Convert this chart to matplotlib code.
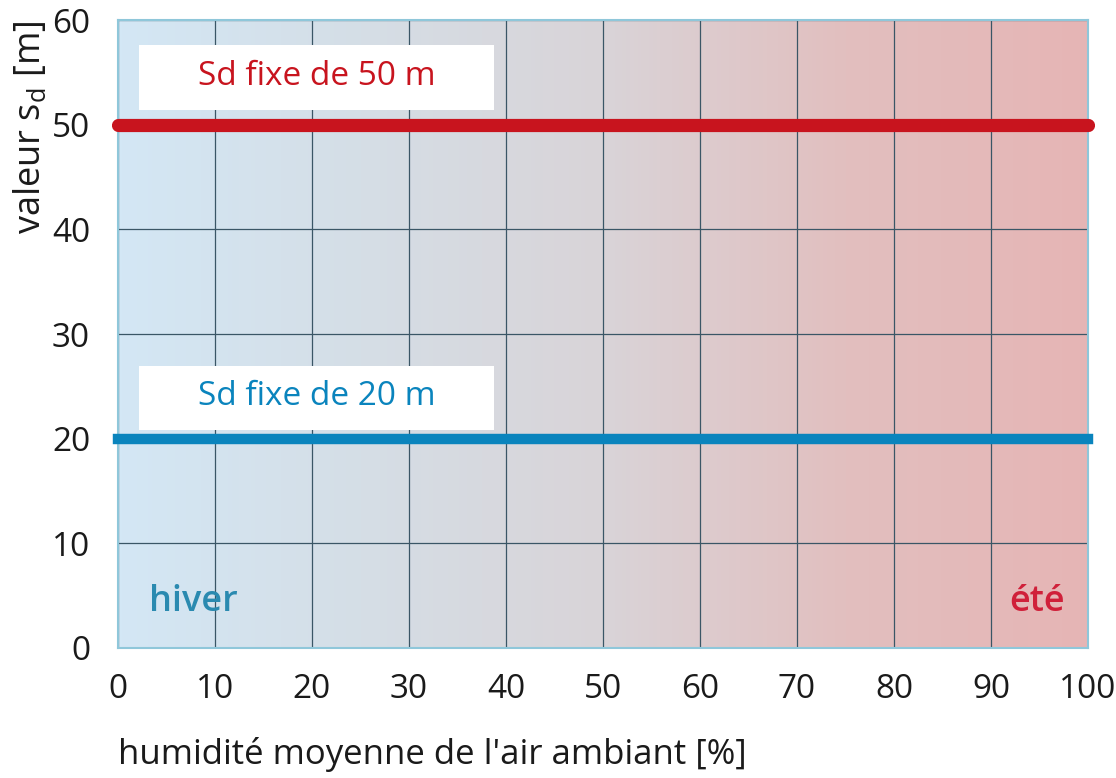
import numpy as np
import matplotlib.pyplot as plt
from matplotlib.colors import LinearSegmentedColormap
from matplotlib.patches import Rectangle

# données
humidite = [0, 100]
sd_50 = [50, 50]
sd_20 = [20, 20]
x_ticks = [0, 10, 20, 30, 40, 50, 60, 70, 80, 90, 100]
y_ticks = [0, 10, 20, 30, 40, 50, 60]

plt.rcParams['font.family'] = ['Open Sans', 'DejaVu Sans']

fig = plt.figure(figsize=(11.16, 7.78), dpi=100)
ax = fig.add_axes([0.1057, 0.1671, 0.8693, 0.8069])

# fond dégradé hiver -> été
cmap = LinearSegmentedColormap.from_list('saison', ['#d3e7f5', '#d5dee6', '#d9d4d8', '#e2bfbf', '#e6b5b5'])
grad = np.linspace(0, 1, 256).reshape(1, -1)
ax.imshow(grad, cmap=cmap, extent=[0, 100, 0, 60], aspect='auto', zorder=0)

ax.set_xlim(0, 100)
ax.set_ylim(0, 60)
ax.set_xticks(x_ticks)
ax.set_yticks(y_ticks)
ax.grid(True, color='#3a5666', linewidth=0.9, linestyle='-', zorder=1)
for s in ax.spines.values():
    s.set_color('#8fc7da')
    s.set_linewidth(1.5)
ax.tick_params(length=0, labelsize=24, labelcolor='#1a1a1a')
ax.tick_params(axis='x', pad=18)
ax.tick_params(axis='y', pad=20)

ax.plot(humidite, sd_50, color='#c8141e', linewidth=9.5, solid_capstyle='round', zorder=3, clip_on=False)
ax.plot(humidite, sd_20, color='#0a84bd', linewidth=7.5, solid_capstyle='projecting', zorder=3, clip_on=False)

# boîtes des étiquettes
ax.add_patch(Rectangle((2.2, 51.4), 36.6, 6.2, fc='white', ec='none', zorder=4))
ax.add_patch(Rectangle((2.2, 20.8), 36.6, 6.2, fc='white', ec='none', zorder=4))
ax.text(20.5, 54.6, 'Sd fixe de 50 m', color='#c8141e', fontsize=24, va='center', ha='center', zorder=5)
ax.text(20.5, 24.0, 'Sd fixe de 20 m', color='#0a84bd', fontsize=24, va='center', ha='center', zorder=5)

ax.text(3.2, 4.4, 'hiver', color='#2a8ab0', fontsize=26, fontweight='semibold', va='center', zorder=4)
ax.text(97.6, 4.4, 'été', color='#d0203a', fontsize=26, fontweight='semibold', va='center', ha='right', zorder=4)

ax.set_xlabel("humidité moyenne de l'air ambiant [%]", fontsize=25, labelpad=22, loc='left', color='#1a1a1a')
ax.set_ylabel('valeur s$_\\mathregular{d}$ [m]', fontsize=26, labelpad=2, loc='top', color='#1a1a1a')

fig.savefig('out.png', dpi=100)
